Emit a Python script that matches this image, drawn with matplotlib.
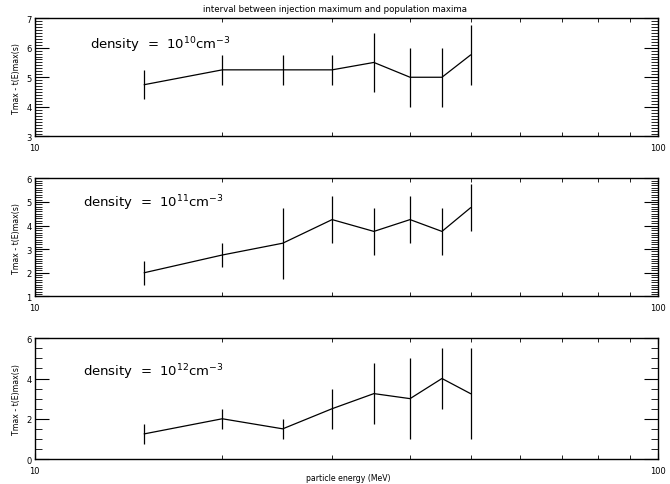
import numpy as np
import matplotlib
matplotlib.use('Agg')
import matplotlib.pyplot as plt
from matplotlib.ticker import MultipleLocator, FixedLocator, NullFormatter

energy = [15, 20, 25, 30, 35, 40, 45, 50]

dt10 = [4.75, 5.25, 5.25, 5.25, 5.5, 5.0, 5.0, 5.75]
err10 = [0.5, 0.5, 0.5, 0.5, 1.0, 1.0, 1.0, 1.0]

dt11 = [2.0, 2.75, 3.25, 4.25, 3.75, 4.25, 3.75, 4.75]
err11 = [0.5, 0.5, 1.5, 1.0, 1.0, 1.0, 1.0, 1.0]

dt12 = [1.25, 2.0, 1.5, 2.5, 3.25, 3.0, 4.0, 3.25]
err12 = [0.5, 0.5, 0.5, 1.0, 1.5, 2.0, 1.5, 2.25]

panels = [
    (dt10, err10, '10', (3, 7), 1, 0.1, 0.089, 0.78),
    (dt11, err11, '11', (1, 6), 1, 0.1, 0.077, 0.80),
    (dt12, err12, '12', (0, 6), 2, 0.5, 0.077, 0.73),
]
boxes = [
    [0.0515, 0.7165, 0.931, 0.2443],
    [0.0515, 0.387, 0.931, 0.2433],
    [0.0515, 0.0515, 0.931, 0.249],
]

fig = plt.figure(figsize=(6.7, 4.85), dpi=100)

for (y, e, dens, ylim, major, minor, tx, ty), box in zip(panels, boxes):
    ax = fig.add_axes(box)
    ax.errorbar(energy, y, yerr=e, color='k', lw=0.9, elinewidth=0.9, capsize=0)
    ax.set_xscale('log')
    ax.set_xlim(10, 100)
    ax.set_ylim(*ylim)
    ax.xaxis.set_major_locator(FixedLocator([10, 100]))
    ax.xaxis.set_minor_locator(FixedLocator(range(20, 100, 10)))
    ax.xaxis.set_minor_formatter(NullFormatter())
    ax.set_xticklabels(['10', '100'])
    ax.yaxis.set_major_locator(MultipleLocator(major))
    ax.yaxis.set_minor_locator(MultipleLocator(minor))
    ax.tick_params(which='both', direction='in', top=True, right=True, labelsize=6)
    ax.tick_params(axis='y', which='major', length=10, width=0.8, pad=2)
    ax.tick_params(axis='y', which='minor', length=5, width=0.6)
    ax.tick_params(axis='x', which='major', length=4, pad=5)
    ax.tick_params(axis='x', which='minor', length=3, width=0.6)
    ax.set_ylabel('Tmax - t(E)max(s)', fontsize=5.6, labelpad=4)
    for s in ax.spines.values():
        s.set_linewidth(1.0)
    ax.text(tx, ty, 'density  =  10$^{%s}$cm$^{-3}$' % dens, transform=ax.transAxes,
            fontsize=9.5, va='center', ha='left')

fig.text(0.5, 0.981, 'interval between injection maximum and population maxima',
         fontsize=6.2, ha='center', va='center')
fig.text(0.52, 0.014, 'particle energy (MeV)', fontsize=5.6, ha='center', va='center')

fig.savefig('out.png', dpi=100)
